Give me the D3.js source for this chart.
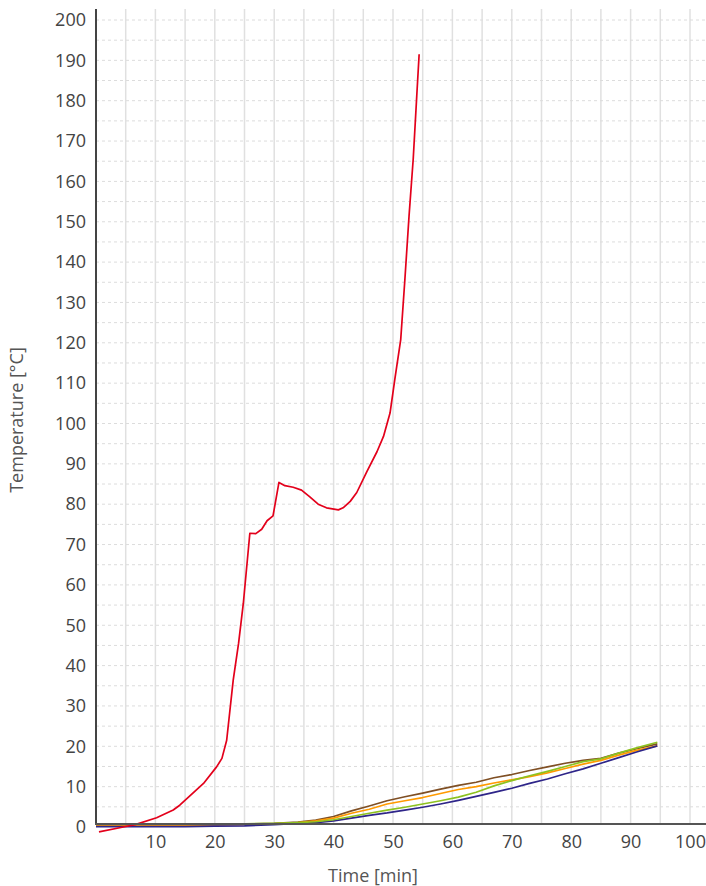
<!DOCTYPE html>
<html>
<head>
<meta charset="utf-8">
<script src="https://cdnjs.cloudflare.com/ajax/libs/d3/7.8.5/d3.min.js"></script>
<style>
  body { margin: 0; background: #fff; }
  svg text { font-family: "Open Sans", sans-serif; }
</style>
</head>
<body>
<svg id="chart" width="706" height="886"></svg>
<script>
// tick labels
const xTicks = [10, 20, 30, 40, 50, 60, 70, 80, 90, 100];
const yTicks = d3.range(0, 201, 10);

// red sensor
const redTime = [0.5, 4.6, 6.6, 10.2, 13.0, 14.1, 18.1, 20.3, 21.2, 22.0, 23.1, 24.0, 24.8, 25.9, 26.9, 27.9, 28.8, 29.8, 30.8, 31.8, 33.2, 34.6, 36.0, 37.4, 38.8, 40.8, 41.6, 42.8, 43.9, 45.6, 47.3, 48.4, 49.5, 50.3, 51.3, 52.0, 52.7, 53.4, 54.0, 54.4];
const redTemp = [-1.2, 0.0, 0.6, 2.3, 4.2, 5.4, 10.8, 14.9, 17.0, 21.5, 36.4, 45.5, 55.4, 72.8, 72.7, 73.8, 75.9, 77.1, 85.4, 84.6, 84.2, 83.5, 81.8, 80.0, 79.1, 78.6, 79.1, 80.7, 82.9, 88.1, 93.0, 96.8, 102.6, 110.9, 120.8, 135.7, 151.4, 165.5, 181.2, 191.5];

// other sensors, shared time base
const slowTime   = [0, 5, 10, 15, 20, 25, 30, 34, 37, 40, 43, 46, 49, 52, 55, 58, 61, 64, 67, 70, 73, 76, 79, 82, 85, 88, 91, 94.5];
const brownTemp  = [0.5, 0.5, 0.5, 0.5, 0.6, 0.7, 0.9, 1.2, 1.7, 2.6, 4.0, 5.2, 6.5, 7.5, 8.4, 9.4, 10.3, 11.1, 12.2, 13.0, 14.0, 14.9, 15.8, 16.5, 17.0, 18.3, 19.4, 20.6];
const orangeTemp = [0.4, 0.4, 0.4, 0.4, 0.5, 0.6, 0.8, 1.1, 1.5, 2.2, 3.4, 4.4, 5.7, 6.5, 7.3, 8.3, 9.3, 10.0, 10.9, 11.7, 12.5, 13.4, 14.5, 15.6, 16.5, 17.8, 19.0, 20.1];
const greenTemp  = [0.8, 0.8, 0.8, 0.8, 0.8, 0.8, 0.9, 1.1, 1.3, 1.8, 2.6, 3.4, 4.2, 4.9, 5.7, 6.5, 7.4, 8.6, 10.2, 11.5, 12.7, 13.8, 15.0, 16.2, 16.9, 18.3, 19.6, 21.0];
const blueTemp   = [0.1, 0.1, 0.1, 0.1, 0.2, 0.3, 0.6, 0.9, 1.1, 1.5, 2.2, 2.9, 3.5, 4.2, 4.9, 5.7, 6.6, 7.6, 8.6, 9.6, 10.8, 11.9, 13.2, 14.4, 15.8, 17.2, 18.6, 20.1];

const svg = d3.select("#chart");

const xScale = d3.scaleLinear().domain([0, 100]).range([96, 690]);
const yScale = d3.scaleLinear().domain([0, 200]).range([827, 20]);
const plotTop = 9, plotRight = 706, axisY = 824;

// vertical gridlines every 5 min
svg.append("g")
  .selectAll("line")
  .data(d3.range(5, 101, 5))
  .join("line")
  .attr("x1", d => xScale(d)).attr("x2", d => xScale(d))
  .attr("y1", plotTop).attr("y2", axisY)
  .attr("stroke", "#e0e0e0")
  .attr("stroke-width", 1.5);

// horizontal dashed gridlines every 5 deg
svg.append("g")
  .selectAll("line")
  .data(d3.range(5, 201, 5))
  .join("line")
  .attr("x1", xScale(0)).attr("x2", plotRight)
  .attr("y1", d => yScale(d)).attr("y2", d => yScale(d))
  .attr("stroke", "#dcdcdc")
  .attr("stroke-width", 1)
  .attr("stroke-dasharray", "3,3");

// series
const series = [
  { time: slowTime, temp: brownTemp,  color: "#7f4f24" },
  { time: slowTime, temp: orangeTemp, color: "#ff9a00" },
  { time: slowTime, temp: blueTemp,   color: "#2e2589" },
  { time: slowTime, temp: greenTemp,  color: "#8dc21f" },
  { time: redTime,  temp: redTemp,    color: "#e3001b" }
];

const line = d3.line()
  .x(d => xScale(d[0]))
  .y(d => yScale(d[1]));

svg.append("g")
  .selectAll("path")
  .data(series)
  .join("path")
  .attr("d", s => line(s.time.map((t, i) => [t, s.temp[i]])))
  .attr("fill", "none")
  .attr("stroke", s => s.color)
  .attr("stroke-width", 1.7)
  .attr("stroke-linejoin", "round");

// axis lines
svg.append("line")
  .attr("x1", xScale(0)).attr("x2", xScale(0))
  .attr("y1", plotTop).attr("y2", axisY)
  .attr("stroke", "#444").attr("stroke-width", 2);
svg.append("line")
  .attr("x1", xScale(0) - 1).attr("x2", plotRight)
  .attr("y1", axisY).attr("y2", axisY)
  .attr("stroke", "#555").attr("stroke-width", 2);

// tick labels
const yAxis = svg.append("g")
  .attr("transform", `translate(${xScale(0)},0)`)
  .call(d3.axisLeft(yScale).tickValues(yTicks).tickSize(0).tickPadding(10));
const xAxis = svg.append("g")
  .attr("transform", `translate(0,${axisY})`)
  .call(d3.axisBottom(xScale).tickValues(xTicks).tickSize(0).tickPadding(11));

[yAxis, xAxis].forEach(ax => {
  ax.select(".domain").remove();
  ax.selectAll("text")
    .attr("font-family", "Open Sans, sans-serif")
    .attr("font-size", 18)
    .attr("fill", "#444");
});

// titles
svg.append("text")
  .attr("x", 373).attr("y", 882)
  .attr("text-anchor", "middle")
  .attr("font-size", 18)
  .attr("fill", "#555")
  .text("Time [min]");

svg.append("text")
  .attr("transform", "translate(23,420) rotate(-90)")
  .attr("text-anchor", "middle")
  .attr("font-size", 18)
  .attr("fill", "#555")
  .text("Temperature [°C]");
</script>
</body>
</html>
